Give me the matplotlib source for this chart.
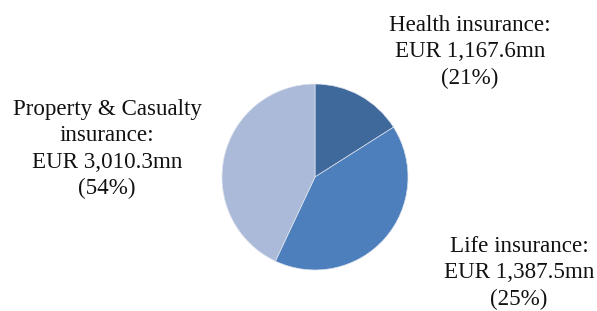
import matplotlib.pyplot as plt

# segment names, label text and the slice shares as drawn in the picture
segments = ['Health insurance', 'Life insurance', 'Property & Casualty insurance']
premiums = ['EUR 1,167.6mn', 'EUR 1,387.5mn', 'EUR 3,010.3mn']
pct_labels = ['(21%)', '(25%)', '(54%)']
slice_shares = [16, 41, 43]
colors = ['#3F689B', '#4D7FBC', '#AABAD8']

plt.rcParams['font.family'] = ['Liberation Serif', 'DejaVu Serif']

W, H = 597, 311
fig = plt.figure(figsize=(W / 100, H / 100), dpi=100)

# pie centre and radius in pixels
cx, cy, r = 315, 177, 93
ax = fig.add_axes([(cx - r) / W, (H - cy - r) / H, 2 * r / W, 2 * r / H])
ax.pie(slice_shares, colors=colors, startangle=90, counterclock=False,
       wedgeprops={'linewidth': 0.5, 'edgecolor': '#dde3ee'})
ax.set_xlim(-1, 1)
ax.set_ylim(-1, 1)
ax.set_aspect('auto')
ax.axis('off')

# label blocks: centre x and first baseline y in pixels
label_pos = [(470, 31), (519, 252), (107, 115)]
label_lines = [
    ['Health insurance:', premiums[0], pct_labels[0]],
    ['Life insurance:', premiums[1], pct_labels[1]],
    ['Property & Casualty', 'insurance:', premiums[2], pct_labels[2]],
]
step = 26.3
for (x, y), lines in zip(label_pos, label_lines):
    for i, line in enumerate(lines):
        fig.text(x / W, 1 - (y + i * step) / H, line, ha='center', va='baseline',
                 fontsize=16.6, color='#111111')

fig.savefig('out.png', dpi=100)
